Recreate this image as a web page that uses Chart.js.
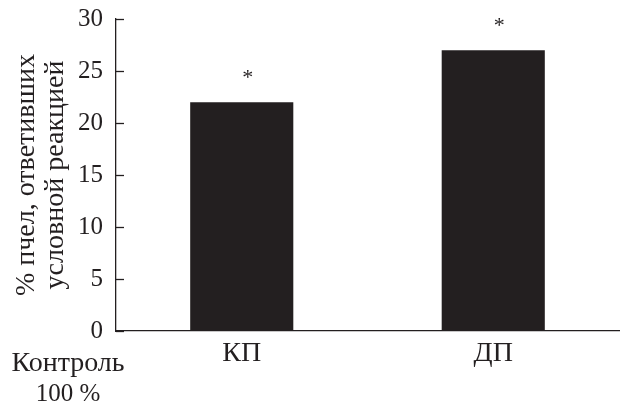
<!DOCTYPE html>
<html>
<head>
<meta charset="utf-8">
<script src="https://cdn.jsdelivr.net/npm/chart.js@4/dist/chart.umd.min.js"></script>
<style>
  html, body { margin: 0; padding: 0; background: #fff; }
  #wrap { width: 632px; height: 406px; }
</style>
</head>
<body>
<div id="wrap"><canvas id="bees"></canvas></div>
<script>
// data
var groups = ["КП", "ДП"];
var responded = [22, 27];
var marks = ["*", "*"];
var yTicks = [0, 5, 10, 15, 20, 25, 30];
var controlLabel = ["Контроль", "100 %"];
var yTitle = ["% пчел, ответивших", "условной реакцией"];

var ink = '#231f20';
var serif = '"Liberation Serif", "Times New Roman", serif';

// stars over the bars, inward ticks, and the control note under the axis
var extras = {
    id: 'extras',
    afterDraw: function (chart) {
        var ctx = chart.ctx;
        var y = chart.scales.y;
        var area = chart.chartArea;
        ctx.save();

        // ticks point into the plot
        ctx.strokeStyle = ink;
        ctx.lineWidth = 1.3;
        yTicks.forEach(function (v) {
            var py = Math.round(y.getPixelForValue(v)) + 0.5;
            ctx.beginPath();
            ctx.moveTo(area.left, py);
            ctx.lineTo(area.left + 8, py);
            ctx.stroke();
        });

        ctx.fillStyle = ink;
        ctx.textAlign = 'center';
        ctx.textBaseline = 'alphabetic';
        ctx.font = '22px ' + serif;
        chart.getDatasetMeta(0).data.forEach(function (bar, i) {
            ctx.fillText(marks[i], bar.x + 6, bar.y - 18);
        });

        ctx.font = '28px ' + serif;
        ctx.fillText(controlLabel[0], area.left - 48, 371);
        ctx.font = '25px ' + serif;
        ctx.fillText(controlLabel[1], area.left - 48, 401);
        ctx.restore();
    }
};

var ctx = document.getElementById('bees').getContext('2d');
var chart = new Chart(ctx, {
    type: 'bar',
    data: {
        labels: groups,
        datasets: [{
            data: responded,
            backgroundColor: ink,
            borderWidth: 0,
            barPercentage: 0.41,
            categoryPercentage: 1
        }]
    },
    options: {
        responsive: true,
        maintainAspectRatio: false,
        animation: false,
        layout: { padding: { left: 0, right: 13, top: 19, bottom: 0 } },
        plugins: {
            legend: { display: false },
            tooltip: { enabled: false }
        },
        scales: {
            x: {
                grid: { display: false, drawTicks: false },
                border: { display: true, color: ink, width: 1.3 },
                ticks: {
                    color: ink,
                    padding: 6,
                    font: { family: serif, size: 28 }
                },
                afterFit: function (scale) { scale.height = 75; }
            },
            y: {
                min: 0,
                max: 30,
                grid: { display: false, drawTicks: false },
                border: { display: true, color: ink, width: 1.3 },
                ticks: {
                    stepSize: 5,
                    color: ink,
                    padding: 13,
                    font: { family: serif, size: 25 }
                },
                title: {
                    display: true,
                    text: yTitle,
                    color: ink,
                    padding: { top: 12, bottom: 0 },
                    font: { family: serif, size: 28, lineHeight: 1.04 }
                },
                afterFit: function (scale) {
                    scale.width = 116;
                    // top of the axis set by layout padding only
                    scale.paddingTop = 0;
                    scale.paddingBottom = 0;
                }
            }
        }
    },
    plugins: [extras]
});
</script>
</body>
</html>
